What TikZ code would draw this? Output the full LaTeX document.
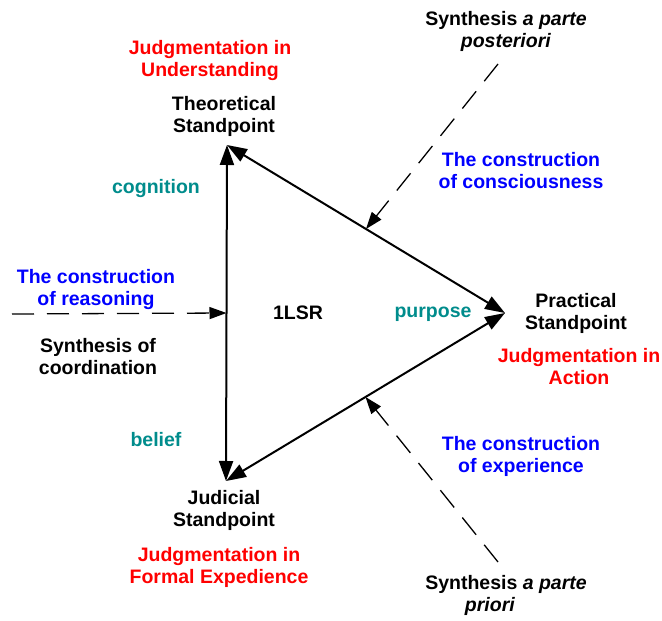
\documentclass[tikz,border=0pt]{standalone}
\usepackage{fontspec}
\setmainfont{Liberation Sans}
\usetikzlibrary{arrows.meta,calc}

\definecolor{judgred}{RGB}{255,0,0}
\definecolor{constblue}{RGB}{0,0,255}
\definecolor{facultyteal}{RGB}{0,140,140}

\tikzset{
  lbl/.style={font=\fontsize{19.5}{22}\selectfont\bfseries, align=center, inner sep=0pt},
  judg/.style={lbl, text=judgred},
  constr/.style={lbl, text=constblue},
  faculty/.style={lbl, text=facultyteal},
  relation/.style={line width=2pt,
    {Triangle[length=20pt,width=14pt]}-{Triangle[length=20pt,width=14pt]}},
  synth/.style={line width=1.3pt, dash pattern=on 22pt off 13pt,
    -{Triangle[length=17pt,width=12pt]}}
}

\begin{document}
\begin{tikzpicture}[x=1pt,y=-1pt]
  \useasboundingbox (0,0) rectangle (662,621);

  % corners of the triangle of standpoints
  \coordinate (T) at (227,145);
  \coordinate (R) at (505,313);
  \coordinate (B) at (226,481);

  % midpoints of the three sides
  \coordinate (mTB) at ($(T)!0.5!(B)$);
  \coordinate (mTR) at ($(T)!0.5!(R)$);
  \coordinate (mRB) at ($(R)!0.5!(B)$);

  % starting points of the synthesis arrows
  \coordinate (sL) at (12,314);
  \coordinate (sU) at (498,64);
  \coordinate (sD) at (498,562);

  % sides of the triangle
  \draw[relation] (T) -- (B);
  \draw[relation] (T) -- (R);
  \draw[relation] (R) -- (B);

  % synthesis arrows
  \draw[synth] (sL) -- (mTB);
  \draw[synth] (sU) -- (mTR);
  \draw[synth] (sD) -- (mRB);

  % theoretical standpoint
  \node[judg] (ju) at (210,61) {Judgmentation in\\Understanding};
  \node[lbl] (ts) at (224,116) {Theoretical\\Standpoint};
  \node[faculty] (cog) at (156,189) {cognition};

  % practical standpoint
  \node[lbl] (ps) at (576,313) {Practical\\Standpoint};
  \node[judg] (ja) at (579,367) {Judgmentation in\\Action};
  \node[faculty] (pur) at (433,314) {purpose};

  % judicial standpoint
  \node[lbl] (js) at (224,510) {Judicial\\Standpoint};
  \node[judg] (jf) at (219,567) {Judgmentation in\\Formal Expedience};
  \node[faculty] (bel) at (156,440) {belief};

  % centre
  \node[lbl] (lsr) at (298,313) {1LSR};

  % constructions and syntheses
  \node[constr] (cr) at (96,289) {The construction\\of reasoning};
  \node[lbl] (sc) at (98,357) {Synthesis of\\coordination};
  \node[constr] (cc) at (521,171) {The construction\\of consciousness};
  \node[constr] (ce) at (521,456) {The construction\\of experience};
  \node[lbl] (sp) at (506,31) {Synthesis \textit{a parte}\\\textit{posteriori}};
  \node[lbl] (sa) at (506,595) {Synthesis \textit{a parte}\\\hspace*{-32pt}\textit{priori}};
\end{tikzpicture}
\end{document}
